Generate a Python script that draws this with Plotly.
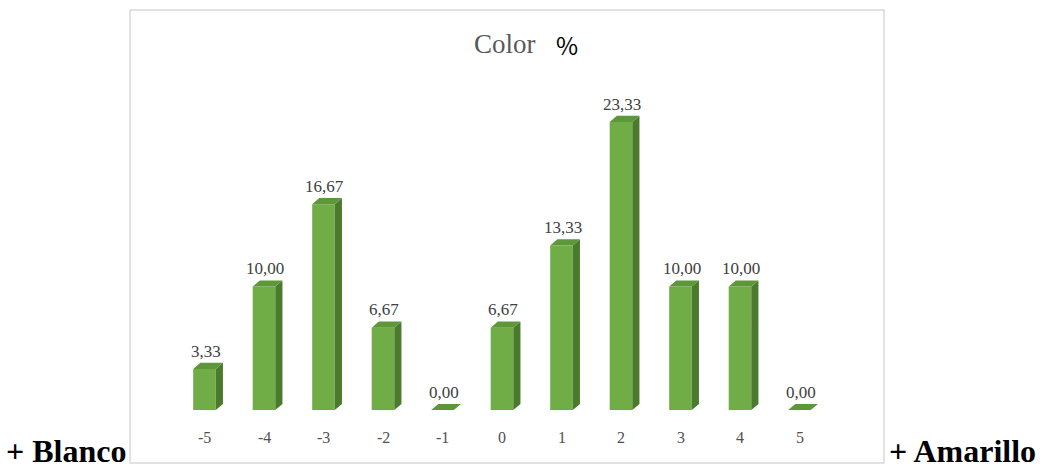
import plotly.graph_objects as go

# Chart data
categories = [-5, -4, -3, -2, -1, 0, 1, 2, 3, 4, 5]
percent = [3.33, 10.00, 16.67, 6.67, 0.00, 6.67, 13.33, 23.33, 10.00, 10.00, 0.00]
tick_labels = ["-5", "-4", "-3", "-2", "-1", "0", "1", "2", "3", "4", "5"]

# Bar geometry (data units)
BAR_W = 0.38      # width of the front face
DEPTH_X = 0.12    # horizontal offset of the back faces
DEPTH_Y = 0.49    # vertical offset of the back faces

FRONT = "#70AD47"
SIDE = "#4A7A2C"
TOP = "#5E9739"

fig = go.Figure()

# front faces
fig.add_trace(go.Bar(
    x=categories, y=percent, width=BAR_W,
    marker=dict(color=FRONT, line=dict(width=0)),
    hoverinfo="skip",
))

# side faces and top faces as filled polygons
side_x, side_y, top_x, top_y = [], [], [], []
for c, v in zip(categories, percent):
    xl, xr = c - BAR_W / 2, c + BAR_W / 2
    side_x += [xr, xr + DEPTH_X, xr + DEPTH_X, xr, xr, None]
    side_y += [0, DEPTH_Y, v + DEPTH_Y, v, 0, None]
    top_x += [xl, xr, xr + DEPTH_X, xl + DEPTH_X, xl, None]
    top_y += [v, v, v + DEPTH_Y, v + DEPTH_Y, v, None]

fig.add_trace(go.Scatter(
    x=side_x, y=side_y, mode="lines", fill="toself",
    fillcolor=SIDE, line=dict(width=0, color=SIDE), hoverinfo="skip",
))
fig.add_trace(go.Scatter(
    x=top_x, y=top_y, mode="lines", fill="toself",
    fillcolor=TOP, line=dict(width=0, color=TOP), hoverinfo="skip",
))

# value labels
for c, v in zip(categories, percent):
    fig.add_annotation(
        x=c + 0.02, y=v + DEPTH_Y + 0.95, text=f"{v:.2f}".replace(".", ","),
        showarrow=False, xanchor="center", yanchor="middle",
        font=dict(family="Liberation Serif", size=17, color="#404040"),
    )

# category labels
for c, t in zip(categories, tick_labels):
    fig.add_annotation(
        x=c, y=-2.19, text=t, showarrow=False,
        xanchor="center", yanchor="middle",
        font=dict(family="Liberation Serif", size=16, color="#505050"),
    )

# title
fig.add_annotation(
    x=(505 - 130) / 754, y=(463 - 44) / 453, xref="paper", yref="paper",
    text="Color", showarrow=False, xanchor="center", yanchor="middle",
    font=dict(family="Liberation Serif", size=27, color="#595959"),
)
fig.add_annotation(
    x=(567 - 130) / 754, y=(463 - 44) / 453, xref="paper", yref="paper",
    text="%", showarrow=False, xanchor="center", yanchor="middle",
    font=dict(family="Noto Sans CJK JP", size=24, color="#000000"),
)

# side captions
fig.add_annotation(
    x=(128 - 130) / 754, y=(463 - 451) / 453, xref="paper", yref="paper",
    text="<b>+ Blanco</b>", showarrow=False, xanchor="right", yanchor="middle",
    font=dict(family="Liberation Serif", size=32, color="#000000"),
)
fig.add_annotation(
    x=(887 - 130) / 754, y=(463 - 451) / 453, xref="paper", yref="paper",
    text="<b>+ Amarillo</b>", showarrow=False, xanchor="left", yanchor="middle",
    font=dict(family="Liberation Serif", size=32, color="#000000"),
)

# chart border
fig.add_shape(
    type="rect", xref="paper", yref="paper", x0=0, y0=0, x1=1, y1=1,
    line=dict(color="#D9D9D9", width=1.5), layer="above",
)

fig.update_layout(
    width=1040, height=468,
    margin=dict(l=130, r=156, t=10, b=5),
    paper_bgcolor="white", plot_bgcolor="white",
    showlegend=False,
    xaxis=dict(range=[-6.252, 6.42], visible=False, fixedrange=True),
    yaxis=dict(range=[-4.29, 32.39], visible=False, fixedrange=True),
)

fig.write_html("out.html")
